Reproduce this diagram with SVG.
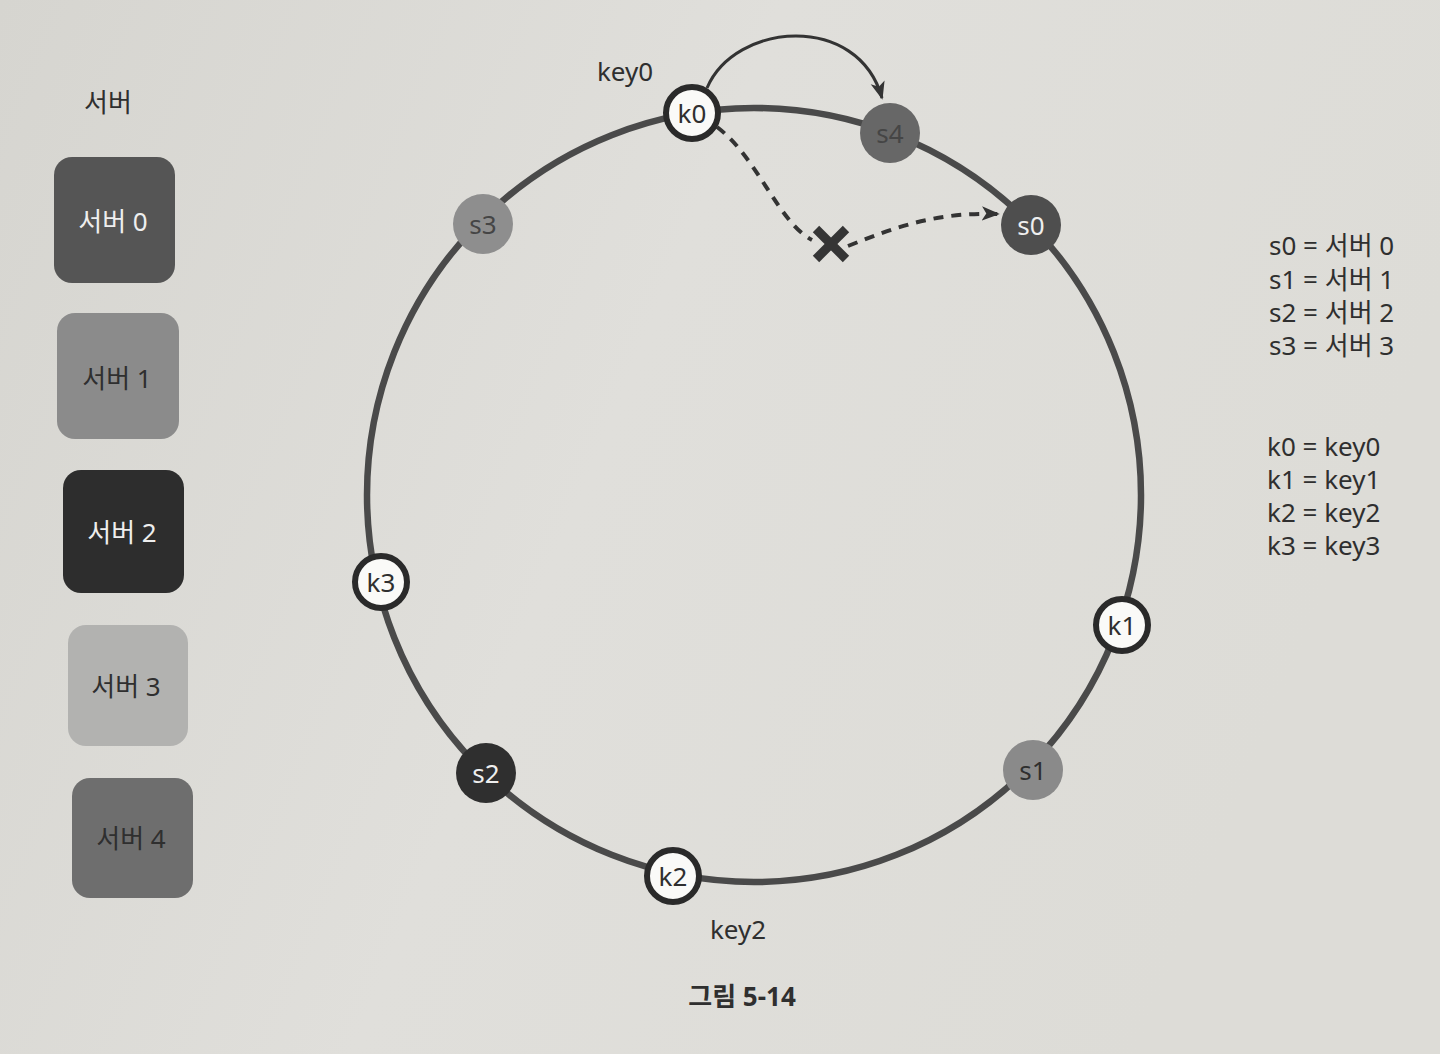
<svg xmlns="http://www.w3.org/2000/svg" width="1440" height="1054" viewBox="0 0 1440 1054">
<style>
.t{font-family:"Noto Sans","Noto Sans CJK KR",sans-serif;font-size:26px}
.c{text-anchor:middle;dominant-baseline:central}
.d{fill:#2f2f2f}
.w{fill:#eeeeee}
.m{fill:#454545}
.key{fill:#fafaf8;stroke:#2a2a2a;stroke-width:6}
.ring{fill:none;stroke:#4a4a4a;stroke-width:6.5}
</style>
<defs>
<linearGradient id="bg" x1="0" y1="0" x2="1" y2="0.3">
<stop offset="0" stop-color="#d6d5d0"/>
<stop offset="0.5" stop-color="#e0dfdb"/>
<stop offset="1" stop-color="#dddcd7"/>
</linearGradient>
<marker id="ah2" viewBox="0 0 10 10" refX="9" refY="5" markerWidth="18" markerHeight="18" orient="auto" markerUnits="userSpaceOnUse">
<path d="M0,1 L10,5 L0,9 L2.5,5 Z" fill="#333"/>
</marker>
</defs>
<rect width="1440" height="1054" fill="url(#bg)"/>

<g id="ring">
<circle class="ring" cx="754" cy="495" r="387"/>
</g>

<g id="connectors">
<path d="M707,88 C735,22 858,12 882,98" fill="none" stroke="#333" stroke-width="3" marker-end="url(#ah2)"/>
<path d="M717,127 C758,158 778,222 812,240" fill="none" stroke="#333" stroke-width="4" stroke-dasharray="10,8"/>
<path d="M848,246 C900,225 940,212 998,214" fill="none" stroke="#333" stroke-width="4" stroke-dasharray="10,8" marker-end="url(#ah2)"/>
<g id="xmark" stroke="#353535" stroke-width="9">
<line x1="816" y1="229" x2="846" y2="259"/>
<line x1="846" y1="229" x2="816" y2="259"/>
</g>
</g>

<g id="legend-servers">
<text class="t c d" x="108" y="102" font-size="28">서버</text>
<g id="box0"><rect x="54" y="157" width="121" height="126" rx="18" fill="#555555"/><text class="t c w" x="113" y="221" font-size="27">서버 0</text></g>
<g id="box1"><rect x="57" y="313" width="122" height="126" rx="18" fill="#8b8b8b"/><text class="t c d" x="117" y="378" font-size="27">서버 1</text></g>
<g id="box2"><rect x="63" y="470" width="121" height="123" rx="18" fill="#2d2d2d"/><text class="t c w" x="122" y="532" font-size="27">서버 2</text></g>
<g id="box3"><rect x="68" y="625" width="120" height="121" rx="18" fill="#b2b2b0"/><text class="t c d" x="126" y="686" font-size="27">서버 3</text></g>
<g id="box4"><rect x="72" y="778" width="121" height="120" rx="18" fill="#6e6e6e"/><text class="t c d" x="131" y="838" font-size="27">서버 4</text></g>
</g>

<g id="nodes">
<g id="k0"><circle class="key" cx="692" cy="113" r="26"/><text class="t c d" x="692" y="113">k0</text></g>
<g id="s4"><circle cx="890" cy="133" r="30" fill="#676767"/><text class="t c m" x="890" y="133">s4</text></g>
<g id="s0"><circle cx="1031" cy="225" r="30" fill="#4e4e4e"/><text class="t c w" x="1031" y="225">s0</text></g>
<g id="s3"><circle cx="483" cy="224" r="30" fill="#8e8e8e"/><text class="t c m" x="483" y="224">s3</text></g>
<g id="k3"><circle class="key" cx="381" cy="582" r="26"/><text class="t c d" x="381" y="582">k3</text></g>
<g id="k1"><circle class="key" cx="1122" cy="625" r="26"/><text class="t c d" x="1122" y="625">k1</text></g>
<g id="s1"><circle cx="1033" cy="770" r="30" fill="#8a8a8a"/><text class="t c d" x="1033" y="770">s1</text></g>
<g id="s2"><circle cx="486" cy="773" r="30" fill="#2f2f2f"/><text class="t c w" x="486" y="773">s2</text></g>
<g id="k2"><circle class="key" cx="673" cy="876" r="26"/><text class="t c d" x="673" y="876">k2</text></g>
</g>

<g id="labels">
<text class="t c d" x="625" y="71" font-size="28">key0</text>
<text class="t c d" x="738" y="929" font-size="28">key2</text>
<text class="t c d" x="742" y="996" font-weight="bold" font-size="32">그림 5-14</text>
</g>

<g id="legend-map">
<text class="t d" x="1269" y="255" font-size="27">s0 = 서버 0</text>
<text class="t d" x="1269" y="289" font-size="27">s1 = 서버 1</text>
<text class="t d" x="1269" y="322" font-size="27">s2 = 서버 2</text>
<text class="t d" x="1269" y="355" font-size="27">s3 = 서버 3</text>
<text class="t d" x="1267" y="456" font-size="27">k0 = key0</text>
<text class="t d" x="1267" y="489" font-size="27">k1 = key1</text>
<text class="t d" x="1267" y="522" font-size="27">k2 = key2</text>
<text class="t d" x="1267" y="555" font-size="27">k3 = key3</text>
</g>
</svg>
